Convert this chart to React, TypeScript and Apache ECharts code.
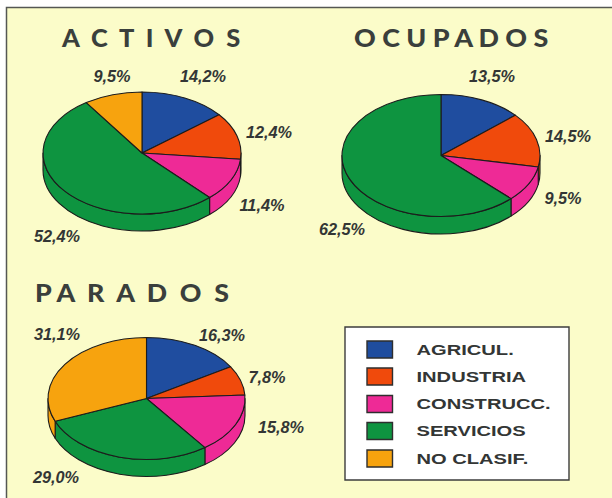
import React, { useEffect, useRef } from "react";
import * as echarts from "echarts";

const categories = ["AGRICUL.", "INDUSTRIA", "CONSTRUCC.", "SERVICIOS", "NO CLASIF."];
const activos = [14.2, 12.4, 11.4, 52.4, 9.5];
const ocupados = [13.5, 14.5, 9.5, 62.5, 0];
const parados = [16.3, 7.8, 15.8, 29.0, 31.1];
const colors = ["#1f4d9f", "#f04a0c", "#ee2a96", "#0e9440", "#f7a30e"];

const BG = "#fbfcc9";
const INK = "#1c1c1c";
const TEXT = "#333635";

type PieLayout = { cx: number; cy: number; rx: number; ry: number; depth: number; labels: [number, number][] };

const activosLayout: PieLayout = {
  cx: 142, cy: 153, rx: 99, ry: 61, depth: 17,
  labels: [[203, 76], [269, 132], [262, 205], [57, 236], [112, 76]],
};
const ocupadosLayout: PieLayout = {
  cx: 441, cy: 155.5, rx: 99, ry: 61, depth: 17.5,
  labels: [[492, 76], [568, 136], [563, 198], [342, 229], [0, 0]],
};
const paradosLayout: PieLayout = {
  cx: 146.5, cy: 398.5, rx: 98.5, ry: 61, depth: 17,
  labels: [[222, 335], [267, 377], [281, 427], [56, 477], [57, 334]],
};

const pt = (l: PieLayout, deg: number, dy = 0) => {
  const a = (deg * Math.PI) / 180;
  return [l.cx + l.rx * Math.sin(a), l.cy - l.ry * Math.cos(a) + dy];
};
const arc = (l: PieLayout, from: number, to: number, dy: number) => {
  const [x, y] = pt(l, to, dy);
  const sweep = to > from ? 1 : 0;
  const large = Math.abs(to - from) > 180 ? 1 : 0;
  return `A${l.rx} ${l.ry} 0 ${large} ${sweep} ${x} ${y}`;
};

const pieSeries = (values: number[], l: PieLayout) => {
  const total = values.reduce((s, v) => s + v, 0);
  return {
    type: "custom",
    coordinateSystem: "none",
    silent: true,
    data: values.map((v) => [v]),
    renderItem: (params: any, api: any) => {
      const i = params.dataIndex;
      const v = api.value(0) as number;
      if (!v) return { type: "group", children: [] };
      const before = values.slice(0, i).reduce((s, x) => s + x, 0);
      const a0 = (before / total) * 360;
      const a1 = ((before + v) / total) * 360;
      const style = { fill: colors[i], stroke: INK, lineWidth: 1.1, lineJoin: "round" };
      const children: any[] = [];
      const s0 = Math.max(a0, 90);
      const s1 = Math.min(a1, 270);
      if (s1 > s0) {
        const [x0, y0] = pt(l, s0);
        const [x1, y1] = pt(l, s1, l.depth);
        children.push({
          type: "path",
          shape: {
            pathData: `M${x0} ${y0}${arc(l, s0, s1, 0)}L${x1} ${y1}${arc(l, s1, s0, l.depth)}Z`,
            layout: "none",
          },
          style,
        });
      }
      const [sx, sy] = pt(l, a0);
      children.push({
        type: "path",
        shape: {
          pathData: `M${l.cx} ${l.cy}L${sx} ${sy}${arc(l, a0, a1, 0)}Z`,
          layout: "none",
        },
        style,
      });
      const [lx, ly] = l.labels[i];
      children.push({
        type: "text",
        style: {
          x: lx,
          y: ly,
          text: v.toFixed(1).replace(".", ",") + "%",
          fill: TEXT,
          font: "italic bold 16.3px 'Liberation Sans'",
          align: "center",
          verticalAlign: "middle",
        },
      });
      return { type: "group", children };
    },
  };
};

const title = (text: string, x: number, y: number, scaleX: number) => ({
  type: "text",
  x,
  y,
  scaleX,
  style: {
    text,
    fill: "#3a3f3c",
    font: "900 25px Lato",
    verticalAlign: "middle",
  },
});

const legendRows = [349.5, 376.5, 404, 431, 458.5];
const legendGraphics = [
  {
    type: "rect",
    shape: { x: 345, y: 327, width: 224, height: 153 },
    style: { fill: "#ffffff", stroke: "#3c3c3c", lineWidth: 1.4 },
  },
  ...categories.flatMap((c, i) => [
    {
      type: "rect",
      shape: { x: 367, y: legendRows[i] - 8.5, width: 25.5, height: 17 },
      style: { fill: colors[i], stroke: "#2e2e2e", lineWidth: 1.4 },
    },
    {
      type: "text",
      x: 416.5,
      y: legendRows[i],
      scaleX: 1.36,
      style: {
        text: c,
        fill: TEXT,
        font: "bold 14.8px 'Liberation Sans'",
        verticalAlign: "middle",
      },
    },
  ]),
];

export default function App() {
  const ref = useRef<HTMLDivElement>(null);
  useEffect(() => {
    const chart = echarts.init(ref.current!, null, { renderer: "svg" });
    chart.setOption({
      animation: false,
      backgroundColor: "#ffffff",
      series: [
        pieSeries(activos, activosLayout),
        pieSeries(ocupados, ocupadosLayout),
        pieSeries(parados, paradosLayout),
      ],
      graphic: [
        {
          type: "rect",
          z: -10,
          shape: { x: 6.5, y: 7.5, width: 620, height: 520 },
          style: { fill: BG, stroke: "#555753", lineWidth: 1.5 },
        },
        title("A  C  T  I  V  O  S", 62, 37, 1.017),
        title("O C U P A D O S", 354, 37, 1.075),
        title("P A  R  A  D  O  S", 35, 292, 1.07),
        ...legendGraphics,
      ],
    });
    return () => chart.dispose();
  }, []);
  return <div ref={ref} style={{ position: "fixed", left: 0, top: 0, width: 612, height: 498 }} />;
}
